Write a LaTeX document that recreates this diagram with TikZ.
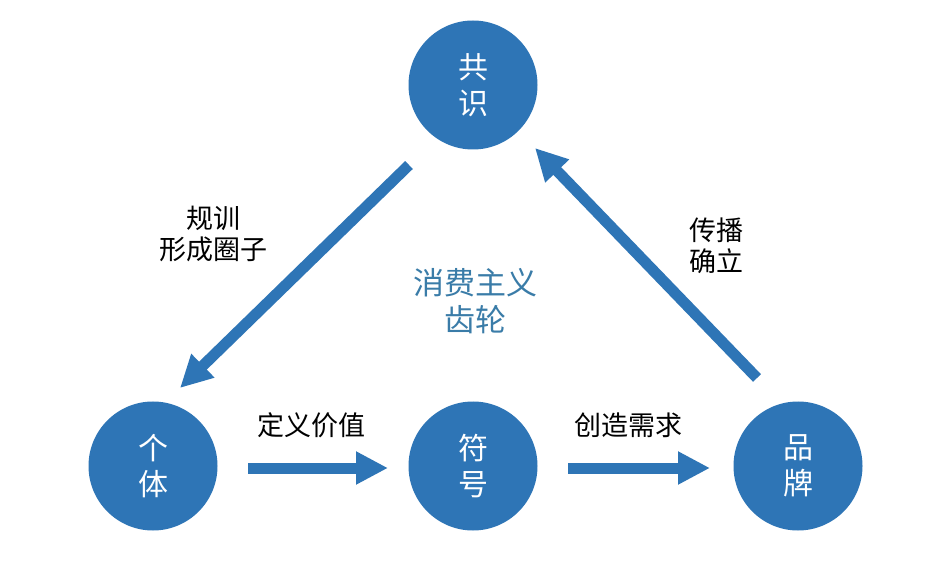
\documentclass[tikz,border=0pt]{standalone}
\usepackage{fontspec}
\newfontfamily\cjk{Noto Sans CJK SC}
\usetikzlibrary{arrows.meta}
\definecolor{cblue}{RGB}{46,117,182}
\definecolor{tblue}{RGB}{58,124,168}
\tikzset{
  circ/.style={circle,fill=cblue,minimum size=129pt,inner sep=0pt,text=white,
    font=\cjk\fontsize{30}{36}\selectfont,align=center},
  lbl/.style={font=\cjk\fontsize{27}{31}\selectfont,align=center,inner sep=0pt,text=black},
  barrow/.style={draw=cblue,line width=11pt,
    -{Triangle[length=32pt,width=31pt]}},
}
\begin{document}
\begin{tikzpicture}[x=1pt,y=-1pt]
\useasboundingbox (0,0) rectangle (951,585);
\fill[white] (0,0) rectangle (951,585);
\node[circ] (gs) at (473,85) {共\\识};
\node[circ] (gt) at (153,466) {个\\体};
\node[circ] (fh) at (473,466) {符\\号};
\node[circ] (pp) at (798,466) {品\\牌};
\coordinate (a1s) at (409,165);
\coordinate (a1e) at (180,388);
\coordinate (a2s) at (757,378);
\coordinate (a2e) at (535,148);
\coordinate (a3s) at (248,468);
\coordinate (a3e) at (388,468);
\coordinate (a4s) at (568,468);
\coordinate (a4e) at (710,468);
\draw[barrow] (a1s) -- (a1e);
\draw[barrow] (a2s) -- (a2e);
\draw[barrow] (a3s) -- (a3e);
\draw[barrow] (a4s) -- (a4e);
\node[lbl] (l1) at (213,234) {规训\\形成圈子};
\node[lbl] (l2) at (716,246) {传播\\确立};
\node[lbl] (l3) at (311,425) {定义价值};
\node[lbl] (l4) at (628,425) {创造需求};
\node[lbl,text=tblue,font=\cjk\fontsize{31}{37}\selectfont] (c) at (475,301) {消费主义\\齿轮};
\end{tikzpicture}
\end{document}
